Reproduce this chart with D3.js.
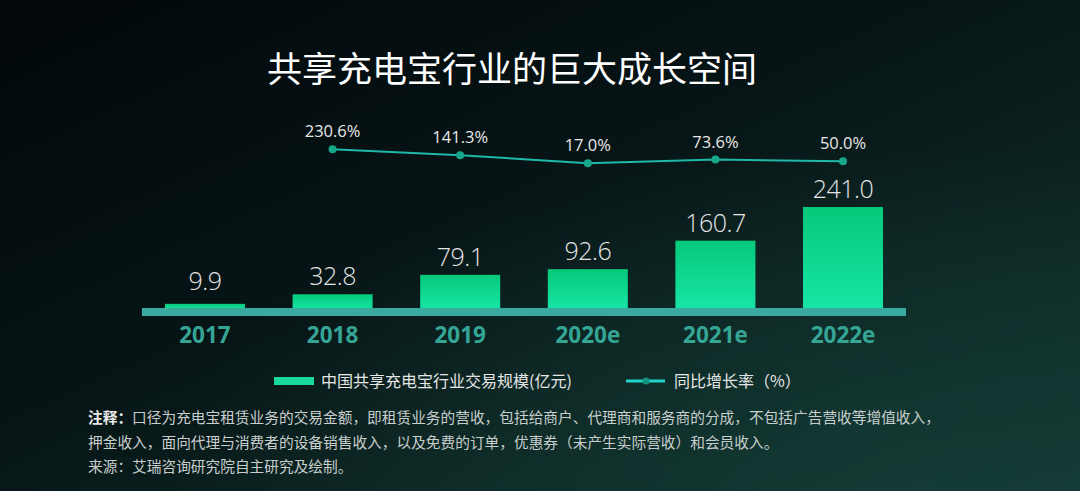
<!DOCTYPE html>
<html><head><meta charset="utf-8">
<script src="https://cdn.jsdelivr.net/npm/d3@7"></script>
<style>
html,body{margin:0;padding:0;background:#050b0c;}
svg{display:block;}
</style></head>
<body>
<svg id="chart" width="1080" height="491"></svg>
<script>
const categories = ["2017","2018","2019","2020e","2021e","2022e"];
const marketSize = [9.9, 32.8, 79.1, 92.6, 160.7, 241.0];
const growthYears = ["2018","2019","2020e","2021e","2022e"];
const growthRate = [230.6, 141.3, 17.0, 73.6, 50.0];
const title = "共享充电宝行业的巨大成长空间";
const legendBar = "中国共享充电宝行业交易规模(亿元)";
const legendLine = "同比增长率（%）";
const notes = [
  ["注释：", "口径为充电宝租赁业务的交易金额，即租赁业务的营收，包括给商户、代理商和服务商的分成，不包括广告营收等增值收入，"],
  ["", "押金收入，面向代理与消费者的设备销售收入，以及免费的订单，优惠券（未产生实际营收）和会员收入。"],
  ["", "来源：艾瑞咨询研究院自主研究及绘制。"]
];

const W = 1080, H = 491;
const svg = d3.select("#chart");
const defs = svg.append("defs");

const bg = defs.append("linearGradient").attr("id","bg")
  .attr("x1","0").attr("y1","0").attr("x2","1").attr("y2","1");
bg.append("stop").attr("offset","0%").attr("stop-color","#02070a");
bg.append("stop").attr("offset","45%").attr("stop-color","#071516");
bg.append("stop").attr("offset","100%").attr("stop-color","#123630");
svg.append("rect").attr("width",W).attr("height",H).attr("fill","url(#bg)");

const bg2 = defs.append("radialGradient").attr("id","bg2")
  .attr("cx","0.85").attr("cy","1").attr("r","0.7");
bg2.append("stop").attr("offset","0%").attr("stop-color","#15413a").attr("stop-opacity",0.6);
bg2.append("stop").attr("offset","100%").attr("stop-color","#15413a").attr("stop-opacity",0);
svg.append("rect").attr("width",W).attr("height",H).attr("fill","url(#bg2)");

const barGrad = defs.append("linearGradient").attr("id","barGrad")
  .attr("x1","0").attr("y1","0").attr("x2","0").attr("y2","1");
barGrad.append("stop").attr("offset","0%").attr("stop-color","#05c97a");
barGrad.append("stop").attr("offset","100%").attr("stop-color","#18e6a6");

// title
svg.append("text").attr("x",512).attr("y",82).attr("text-anchor","middle")
  .attr("fill","#ffffff").attr("font-family","'Noto Sans CJK SC', sans-serif")
  .attr("font-size",35).attr("font-weight",400).text(title);

// scales
const x = d3.scaleBand().domain(categories).range([142, 906]).paddingInner(0.373).paddingOuter(0.18);
const yBar = d3.scaleLinear().domain([0, 241]).range([308, 207]);
const yLine = d3.scaleLinear().domain([0, 230.6]).range([164.4, 149.3]);

// bars
svg.append("g").selectAll("rect").data(categories).join("rect")
  .attr("x", d => x(d)).attr("width", x.bandwidth())
  .attr("y", (d,i) => yBar(marketSize[i]))
  .attr("height", (d,i) => yBar(0) - yBar(marketSize[i]) + 2)
  .attr("fill","url(#barGrad)");

// axis band
svg.append("rect").attr("x",142).attr("y",308).attr("width",764).attr("height",8).attr("fill","#3aa99f");

// x axis labels via d3 axis
const xAxis = d3.axisBottom(x).tickSize(0).tickPadding(0);
const gx = svg.append("g").attr("transform","translate(0,327)").call(xAxis);
gx.select(".domain").remove();
gx.selectAll("text").attr("fill","#35a595").attr("font-family","'Open Sans', 'Noto Sans', sans-serif")
  .attr("font-size",22.5).attr("font-weight",700).attr("dy","0.72em");

// bar value labels
svg.append("g").selectAll("text").data(categories).join("text")
  .attr("x", d => x(d) + x.bandwidth()/2)
  .attr("y", (d,i) => Math.min(yBar(marketSize[i]) - 9, 290))
  .attr("text-anchor","middle").attr("fill","#e4e4e4")
  .attr("font-family","'Open Sans', sans-serif").attr("font-weight",300).attr("font-size",25)
  .attr("letter-spacing",-0.5)
  .text((d,i) => marketSize[i].toFixed(1));

// line
const line = d3.line().x((d,i) => x(growthYears[i]) + x.bandwidth()/2).y(d => yLine(d));
svg.append("path").datum(growthRate).attr("d", line).attr("fill","none")
  .attr("stroke","#20b8a8").attr("stroke-width",2);
svg.append("g").selectAll("circle").data(growthRate).join("circle")
  .attr("cx",(d,i) => x(growthYears[i]) + x.bandwidth()/2).attr("cy", d => yLine(d))
  .attr("r",4).attr("fill","#17a78a");
svg.append("g").selectAll("text").data(growthRate).join("text")
  .attr("x",(d,i) => x(growthYears[i]) + x.bandwidth()/2).attr("y", d => yLine(d) - 12)
  .attr("text-anchor","middle").attr("fill","#e8e8e8")
  .attr("font-family","'Open Sans', sans-serif").attr("font-size",16.5)
  .text(d => d.toFixed(1) + "%");

// legend
const lg = svg.append("g");
lg.append("rect").attr("x",274).attr("y",377).attr("width",40).attr("height",8).attr("fill","#16d99a");
lg.append("text").attr("x",321).attr("y",387).attr("fill","#e6e6e6")
  .attr("font-family","'Noto Sans CJK SC', sans-serif").attr("font-size",16).text(legendBar);
lg.append("line").attr("x1",626).attr("x2",665).attr("y1",381).attr("y2",381)
  .attr("stroke","#22d3c5").attr("stroke-width",3);
lg.append("circle").attr("cx",646).attr("cy",381).attr("r",3.5).attr("fill","#14957f");
lg.append("text").attr("x",674).attr("y",387).attr("fill","#e6e6e6")
  .attr("font-family","'Noto Sans CJK SC', sans-serif").attr("font-size",16).text(legendLine);

// notes
const ng = svg.append("g").attr("font-family","'Noto Sans CJK SC', sans-serif").attr("font-size",14.7);
notes.forEach((n,i) => {
  const t = ng.append("text").attr("x",88).attr("y",423 + i*24.5).attr("fill","#c8cecd");
  if (n[0]) t.append("tspan").attr("font-weight",700).attr("fill","#e8e8e8").text(n[0]);
  t.append("tspan").text(n[1]);
});
</script>
</body></html>
